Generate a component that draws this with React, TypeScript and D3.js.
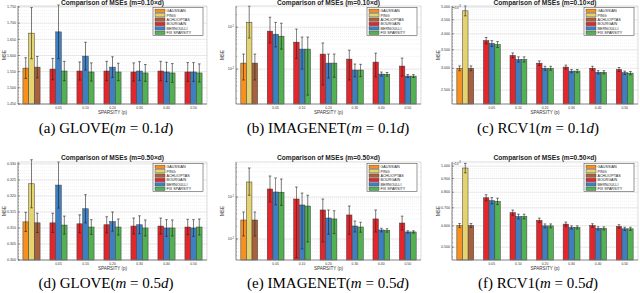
import * as d3 from "d3";

// legend / colours
const methods = ["GAUSSIAN", "PING", "ACHLIOPTAS", "BOURGAIN", "BERNOULLI", "FIX SPARSITY"];
const methodColors = ["#f7901e", "#e4d36f", "#a8613a", "#e3262b", "#3d7fc1", "#52b152"];
// first group holds the three dense methods, others are sparsity levels
const groups = ["", "0.05", "0.10", "0.20", "0.30", "0.40", "0.50"];

// GLOVE m=0.1d (mean, +/- err)
const gloveM01Mean = [1.561, 1.669, 1.564, 1.558, 1.673, 1.552, 1.552, 1.598, 1.549, 1.552, 1.564, 1.549, 1.549, 1.552, 1.546, 1.552, 1.549, 1.546, 1.549, 1.549, 1.546];
const gloveM01Err = [0.032, 0.079, 0.033, 0.033, 0.083, 0.03, 0.028, 0.043, 0.028, 0.03, 0.032, 0.027, 0.028, 0.029, 0.026, 0.03, 0.03, 0.029, 0.029, 0.029, 0.028];
// GLOVE m=0.5d
const gloveM05Mean = [0.3119, 0.3238, 0.3116, 0.3116, 0.3234, 0.3109, 0.3113, 0.316, 0.3103, 0.311, 0.312, 0.3103, 0.3106, 0.311, 0.31, 0.3106, 0.31, 0.31, 0.3103, 0.31, 0.3103];
const gloveM05Err = [0.003, 0.0075, 0.003, 0.003, 0.0072, 0.0028, 0.0028, 0.0044, 0.0023, 0.0025, 0.003, 0.0025, 0.0025, 0.0028, 0.0025, 0.0025, 0.0026, 0.0025, 0.0024, 0.0026, 0.0025];

// IMAGENET m=0.1d (mean, low, high)
const imgM01Mean = [0.0139, 0.1315, 0.0139, 0.0804, 0.068, 0.061, 0.044, 0.03, 0.03, 0.0228, 0.0139, 0.0139, 0.0173, 0.0095, 0.0095, 0.0147, 0.0076, 0.0075, 0.0118, 0.0068, 0.0068];
const imgM01Lo = [0.0055, 0.055, 0.0055, 0.042, 0.034, 0.03, 0.018, 0.01, 0.0024, 0.0042, 0.0061, 0.0064, 0.0055, 0.0065, 0.0066, 0.0065, 0.0068, 0.0068, 0.0068, 0.0063, 0.0063];
const imgM01Hi = [0.0228, 0.316, 0.0228, 0.173, 0.13, 0.124, 0.09, 0.058, 0.058, 0.042, 0.0228, 0.0228, 0.0283, 0.0132, 0.013, 0.024, 0.0085, 0.0083, 0.0183, 0.0074, 0.0074];
// IMAGENET m=0.5d
const imgM05Mean = [0.0283, 0.2276, 0.0283, 0.155, 0.1315, 0.13, 0.0896, 0.0645, 0.061, 0.049, 0.0316, 0.03, 0.0373, 0.0204, 0.0193, 0.03, 0.0164, 0.016, 0.024, 0.0147, 0.0147];
const imgM05Lo = [0.0118, 0.11, 0.0118, 0.076, 0.065, 0.063, 0.0036, 0.0058, 0.0085, 0.0085, 0.013, 0.0135, 0.013, 0.0147, 0.0145, 0.0147, 0.0148, 0.0145, 0.0164, 0.0138, 0.0138];
const imgM05Hi = [0.044, 0.49, 0.044, 0.316, 0.283, 0.268, 0.173, 0.124, 0.11, 0.0896, 0.049, 0.047, 0.061, 0.0268, 0.025, 0.049, 0.018, 0.0176, 0.035, 0.0157, 0.0157];

// RCV1 (in units of 1e-3)
const rcvM01Mean = [3.0, 4.85, 3.0, 3.78, 3.69, 3.66, 3.34, 3.23, 3.23, 3.13, 3.0, 3.0, 3.03, 2.93, 2.93, 3.0, 2.9, 2.9, 2.97, 2.89, 2.88];
const rcvM01Err = [0.06, 0.2, 0.06, 0.1, 0.09, 0.09, 0.07, 0.07, 0.07, 0.06, 0.05, 0.05, 0.05, 0.04, 0.04, 0.05, 0.04, 0.04, 0.05, 0.04, 0.04];
const rcvM05Mean = [0.602, 0.984, 0.602, 0.763, 0.744, 0.74, 0.672, 0.65, 0.65, 0.629, 0.6, 0.6, 0.609, 0.592, 0.592, 0.602, 0.587, 0.587, 0.597, 0.585, 0.585];
const rcvM05Err = [0.01, 0.04, 0.01, 0.02, 0.02, 0.02, 0.015, 0.013, 0.013, 0.012, 0.01, 0.01, 0.011, 0.008, 0.008, 0.009, 0.008, 0.008, 0.009, 0.008, 0.008];

const gloveM01Ticks = [1.45, 1.5, 1.55, 1.6, 1.65, 1.7, 1.75];
const gloveM05Ticks = [0.3, 0.305, 0.31, 0.315, 0.32, 0.325, 0.33];
const rcvM01Ticks = [2.5, 3.0, 3.5, 4.0, 4.5, 5.0];
const rcvM05Ticks = [0.5, 0.6, 0.7, 0.8, 0.9, 1.0];
const imgTicks = [0.01, 0.1];

const sans = "Liberation Sans, Arial, sans-serif";
const serif = "Liberation Serif, Times New Roman, serif";

type P = {
  title: string;
  mean: number[];
  lo: number[];
  hi: number[];
  log: boolean;
  domain: [number, number];
  ticks: number[];
  fmt: (v: number) => any;
  minor: number[];
  mult?: boolean;
  x0: number;
  x1: number;
  y0: number;
  y1: number;
};

const sym = (m: number[], e: number[], s: number) => m.map((v, i) => v + s * e[i]);

const Panel = ({ p }: { p: P }) => {
  const x = d3.scaleBand<string>().domain(groups).range([p.x0, p.x1]);
  const inner = d3.scaleBand<number>().domain([0, 1, 2]).range([0, x.step()]).paddingInner(0.04).paddingOuter(0.85);
  const y = (p.log ? d3.scaleLog() : d3.scaleLinear()).domain(p.domain).range([p.y1, p.y0]);
  const base = y(p.domain[0]);
  const lx = p.x1 - 54;
  const ly = p.y0 + 1.5;
  // top row title sits at the very top of the page
  const titleY = Math.max(p.y0 - 2, 5);
  return (
    <g>
      <rect x={p.x0} y={p.y0} width={p.x1 - p.x0} height={p.y1 - p.y0} fill="#fff" />
      {p.minor.map((v, i) => (
        <line key={"m" + i} x1={p.x0} x2={p.x1} y1={y(v)} y2={y(v)} stroke="#e4e4e4" strokeWidth={0.5} strokeDasharray="1,1" />
      ))}
      {p.ticks.map((v, i) => (
        <line key={"g" + i} x1={p.x0} x2={p.x1} y1={y(v)} y2={y(v)} stroke="#d6d6d6" strokeWidth={0.5} />
      ))}
      {p.mean.map((v, i) => {
        const g = Math.floor(i / 3);
        const k = i % 3;
        const mi = g === 0 ? k : 3 + k;
        const bx = (x(groups[g]) as number) + (inner(k) as number);
        const bw = inner.bandwidth();
        const cx = bx + bw / 2;
        return (
          <g key={i}>
            <rect x={bx} y={y(v)} width={bw} height={base - y(v)} fill={methodColors[mi]} stroke="#3a3a3a" strokeWidth={0.5} />
            <line x1={cx} x2={cx} y1={y(p.lo[i])} y2={y(p.hi[i])} stroke="#222" strokeWidth={0.7} opacity={0.85} />
            <line x1={cx - 1.3} x2={cx + 1.3} y1={y(p.lo[i])} y2={y(p.lo[i])} stroke="#222" strokeWidth={0.6} />
            <line x1={cx - 1.3} x2={cx + 1.3} y1={y(p.hi[i])} y2={y(p.hi[i])} stroke="#222" strokeWidth={0.6} />
          </g>
        );
      })}
      <rect x={p.x0} y={p.y0} width={p.x1 - p.x0} height={p.y1 - p.y0} fill="none" stroke="#bbb" strokeWidth={0.5} />
      <line x1={p.x0} x2={p.x0} y1={p.y0} y2={p.y1} stroke="#555" strokeWidth={0.6} />
      <line x1={p.x0} x2={p.x1} y1={p.y1} y2={p.y1} stroke="#555" strokeWidth={0.6} />
      {p.minor.map((v, i) => (
        <line key={"mt" + i} x1={p.x0} x2={p.x0 + 1} y1={y(v)} y2={y(v)} stroke="#555" strokeWidth={0.4} />
      ))}
      {p.ticks.map((v, i) => (
        <g key={"t" + i}>
          <line x1={p.x0} x2={p.x0 + 2} y1={y(v)} y2={y(v)} stroke="#444" strokeWidth={0.5} />
          <text x={p.x0 - 2} y={y(v) + 1.2} fontSize={3.6} fill="#333" textAnchor="end" fontFamily={sans}>
            {p.fmt(v)}
          </text>
        </g>
      ))}
      {p.mult && (
        <text x={p.x0 + 1} y={p.y0 + 2.5} fontSize={3.2} fill="#333" fontFamily={sans}>
          ×10<tspan dy={-1.5} fontSize={2.6}>-3</tspan>
        </text>
      )}
      {groups.slice(1).map((gname) => (
        <text key={gname} x={(x(gname) as number) + x.bandwidth() / 2} y={p.y1 + 4.5} fontSize={3.4} fill="#333" textAnchor="middle" fontFamily={sans}>
          {gname}
        </text>
      ))}
      <text x={(p.x0 + p.x1) / 2} y={p.y1 + 10} fontSize={4.6} fill="#333" textAnchor="middle" fontFamily={sans}>
        SPARSITY (p)
      </text>
      <text transform={`translate(${p.x0 - 12},${(p.y0 + p.y1) / 2}) rotate(-90)`} fontSize={4.6} fill="#333" textAnchor="middle" fontFamily={sans}>
        MSE
      </text>
      <text x={(p.x0 + p.x1) / 2} y={titleY} fontSize={6.6} fontWeight="bold" fill="#222" textAnchor="middle" fontFamily={sans}>
        {p.title}
      </text>
      <rect x={lx} y={ly} width={50} height={28} fill="#fff" stroke="#555" strokeWidth={0.6} />
      {methods.map((m, i) => (
        <g key={m}>
          <rect x={lx + 2} y={ly + 1.6 + i * 4.4} width={10} height={3.4} fill={methodColors[i]} stroke="#3a3a3a" strokeWidth={0.4} />
          <text x={lx + 13.5} y={ly + 4.6 + i * 4.4} fontSize={3.7} fill="#222" fontFamily={sans}>
            {m}
          </text>
        </g>
      ))}
    </g>
  );
};

const logLabel = (v: number) => (
  <>
    10<tspan dy={-1.6} fontSize={2.6}>{Math.round(Math.log10(v))}</tspan>
  </>
);

const range = (a: number, b: number, s: number) => d3.range(Math.round((b - a) / s) + 1).map((i) => +(a + i * s).toFixed(6));
const logMinor = (lo: number, hi: number) => d3.scaleLog().domain([lo, hi]).ticks();

const cols = [
  { x0: 18, x1: 207 },
  { x0: 236, x1: 421 },
  { x0: 452, x1: 638 },
];
const rows = [
  { y0: 6, y1: 104 },
  { y0: 162, y1: 260 },
];

const t1 = "Comparison of MSEs (m=0.10×d)";
const t5 = "Comparison of MSEs (m=0.50×d)";

const panels: P[] = [
  { title: t1, mean: gloveM01Mean, lo: sym(gloveM01Mean, gloveM01Err, -1), hi: sym(gloveM01Mean, gloveM01Err, 1), log: false, domain: [1.45, 1.753], ticks: gloveM01Ticks, fmt: d3.format(".3f"), minor: range(1.45, 1.75, 0.01), ...cols[0], ...rows[0] },
  { title: t1, mean: imgM01Mean, lo: imgM01Lo, hi: imgM01Hi, log: true, domain: [0.00147, 0.32], ticks: imgTicks, fmt: logLabel, minor: logMinor(0.00147, 0.32), ...cols[1], ...rows[0] },
  { title: t1, mean: rcvM01Mean, lo: sym(rcvM01Mean, rcvM01Err, -1), hi: sym(rcvM01Mean, rcvM01Err, 1), log: true, domain: [2.225, 5.05], ticks: rcvM01Ticks, fmt: d3.format(".3f"), minor: range(2.3, 5.0, 0.1), mult: true, ...cols[2], ...rows[0] },
  { title: t5, mean: gloveM05Mean, lo: sym(gloveM05Mean, gloveM05Err, -1), hi: sym(gloveM05Mean, gloveM05Err, 1), log: false, domain: [0.3, 0.3306], ticks: gloveM05Ticks, fmt: d3.format(".3f"), minor: range(0.3, 0.33, 0.001), ...cols[0], ...rows[1] },
  { title: t5, mean: imgM05Mean, lo: imgM05Lo, hi: imgM05Hi, log: true, domain: [0.00316, 0.681], ticks: imgTicks, fmt: logLabel, minor: logMinor(0.00316, 0.681), ...cols[1], ...rows[1] },
  { title: t5, mean: rcvM05Mean, lo: sym(rcvM05Mean, rcvM05Err, -1), hi: sym(rcvM05Mean, rcvM05Err, 1), log: true, domain: [0.448, 1.036], ticks: rcvM05Ticks, fmt: d3.format(".3f"), minor: range(0.46, 1.02, 0.02), mult: true, ...cols[2], ...rows[1] },
];

const captions = [
  ["(a) GLOVE(", "0.1"],
  ["(b) IMAGENET(", "0.1"],
  ["(c) RCV1(", "0.1"],
  ["(d) GLOVE(", "0.5"],
  ["(e) IMAGENET(", "0.5"],
  ["(f) RCV1(", "0.5"],
];
const captionX = [106, 328, 538];
const captionY = [133, 288];

export default function App() {
  return (
    <div style={{ position: "absolute", left: 0, top: 0 }}>
      <svg width={640} height={293} style={{ display: "block", background: "#fff" }}>
        {panels.map((p, i) => (
          <Panel key={i} p={p} />
        ))}
        {captions.map((c, i) => (
          <text key={i} x={captionX[i % 3]} y={captionY[Math.floor(i / 3)]} fontSize={15} fontFamily={serif} textAnchor="middle" fill="#000">
            {c[0]}
            <tspan fontStyle="italic">m</tspan> = {c[1]}
            <tspan fontStyle="italic">d</tspan>)
          </text>
        ))}
      </svg>
    </div>
  );
}
